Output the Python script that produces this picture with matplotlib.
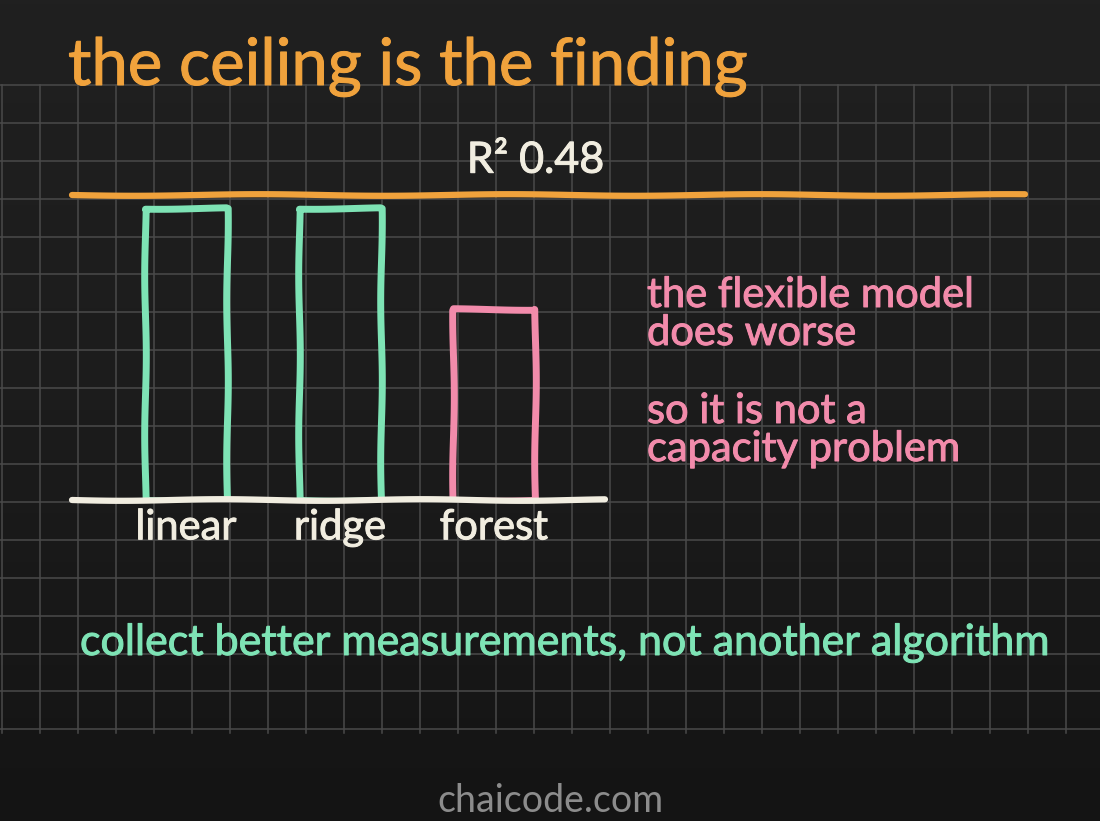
import numpy as np
import matplotlib.pyplot as plt
import matplotlib.patheffects as pe
from matplotlib.colors import LinearSegmentedColormap

# data
models = ["linear", "ridge", "forest"]
r2 = [0.46, 0.46, 0.30]
ceiling = 0.48
ceiling_label = "R² 0.48"
bar_colors = ["#7ee3b5", "#7ee3b5", "#f28bab"]
title = "the ceiling is the finding"
notes = ["the flexible model\ndoes worse", "so it is not a\ncapacity problem"]
takeaway = "collect better measurements, not another algorithm"
footer = "chaicode.com"

ORANGE = "#f0a23c"
GREEN = "#7ee3b5"
PINK = "#f28bab"
CHALK = "#f1ede0"

plt.rcParams["font.family"] = ["Lato", "DejaVu Sans"]

W, H = 1100, 821
fig = plt.figure(figsize=(11, 8.21), dpi=100)

# background board, pixel coords
bg = fig.add_axes([0, 0, 1, 1])
bg.set_xlim(0, W)
bg.set_ylim(H, 0)
bg.axis("off")
shade = np.linspace(0.0, 1.0, 200)[:, None]
board = LinearSegmentedColormap.from_list("board", ["#202020", "#1c1c1c", "#141414"])
bg.imshow(shade, extent=(0, W, H, 0), aspect="auto", cmap=board, zorder=0)

# chalk grid
gtop, gbot = 85, 733
for gx in np.arange(2, W, 38):
    bg.plot([gx, gx], [gtop, gbot], color="#4a4a4a", lw=1.1, zorder=1)
for gy in np.arange(gtop, gbot + 1, 37.9):
    bg.plot([0, W], [gy, gy], color="#4a4a4a", lw=1.1, zorder=1)


def thicken(t, color):
    t.set_path_effects([pe.Stroke(linewidth=0.7, foreground=color), pe.Normal()])
    return t


thicken(bg.text(68, 85, title, color=ORANGE, fontsize=47, va="baseline",
                zorder=5), ORANGE)
# multiline baseline = last line
thicken(bg.text(647, 345, notes[0], color=PINK, fontsize=30, va="baseline",
                linespacing=1.0, zorder=5), PINK)
thicken(bg.text(647, 461, notes[1], color=PINK, fontsize=30, va="baseline",
                linespacing=1.0, zorder=5), PINK)
thicken(bg.text(80, 655, takeaway, color=GREEN, fontsize=30.9, va="baseline",
                zorder=5), GREEN)
bg.text(550, 812, footer, color="#8c8c8c", fontsize=27, va="baseline",
        ha="center", zorder=5)

# bar chart axes
ax = fig.add_axes([72 / W, (H - 500) / H, (1025 - 72) / W, (500 - 85) / H])
ax.patch.set_alpha(0)
ax.set_xlim(-0.74, 5.45)
ax.set_ylim(0, ceiling * 415 / 305)
for s in ax.spines.values():
    s.set_visible(False)
ax.set_yticks([])

x = np.arange(len(models))
bars = ax.bar(x, r2, width=0.53, fill=False, edgecolor=bar_colors,
              linewidth=5, zorder=3)
for b in bars:
    b.set_joinstyle("round")
    b.set_sketch_params(0.8, 160, 1)

base, = ax.plot([-0.74, 2.72], [0, 0], color=CHALK, lw=4.5,
                solid_capstyle="round", zorder=4, clip_on=False)
base.set_sketch_params(0.8, 200, 1)
ceil, = ax.plot([-0.74, 5.45], [ceiling, ceiling], color=ORANGE, lw=4.5,
                solid_capstyle="round", zorder=4, clip_on=False)
ceil.set_sketch_params(0.8, 250, 1)

thicken(ax.annotate(ceiling_label, (2.27, ceiling), xytext=(0, 11),
                    textcoords="offset points", ha="center", va="bottom",
                    color=CHALK, fontsize=31, zorder=5), CHALK)

ax.set_xticks(x, models)
ax.tick_params(axis="x", length=0, pad=6, labelsize=30, labelcolor=CHALK)
for t in ax.get_xticklabels():
    thicken(t, CHALK)

fig.savefig("out.png", dpi=100, facecolor="#1c1c1c")
